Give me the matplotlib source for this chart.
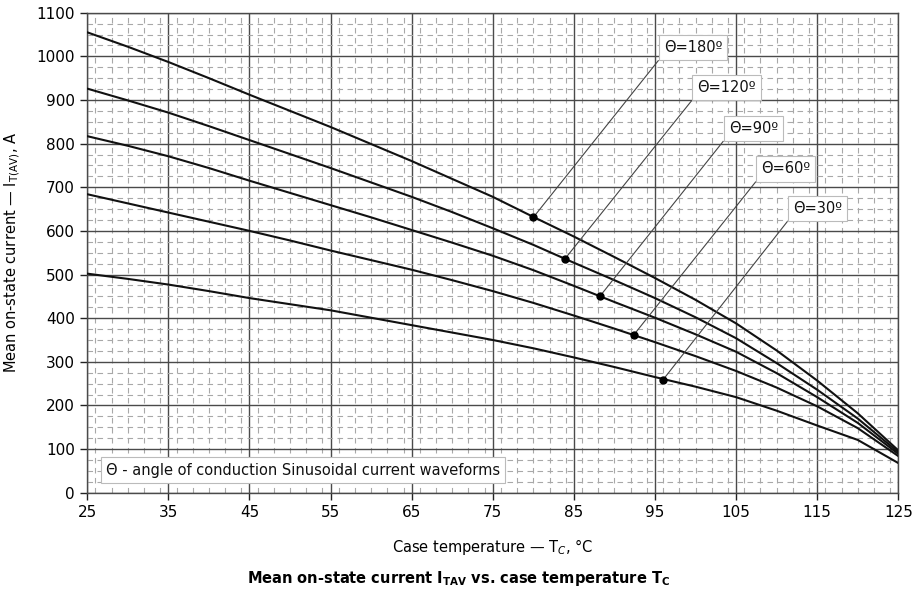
import matplotlib
matplotlib.use("Agg")
import matplotlib.pyplot as plt
from matplotlib.ticker import MultipleLocator

# ---- data ----
T = [25, 30, 35, 40, 45, 50, 55, 60, 65, 70, 75, 80, 85, 90, 95, 100, 105, 110, 115, 120, 125]
I180 = [1055, 1022, 987, 950, 912, 875, 838, 799, 760, 719, 678, 632, 587, 540, 492, 442, 388, 326, 257, 182, 97]
I120 = [926, 899, 871, 840, 808, 776, 744, 711, 678, 643, 606, 568, 527, 487, 446, 402, 354, 297, 236, 170, 93]
I90 = [817, 795, 771, 744, 715, 687, 659, 631, 602, 573, 543, 510, 474, 437, 401, 363, 323, 274, 219, 160, 89]
I60 = [684, 663, 642, 621, 600, 578, 555, 533, 511, 487, 462, 435, 406, 376, 345, 313, 279, 241, 198, 148, 84]
I30 = [502, 490, 477, 462, 446, 432, 418, 401, 384, 367, 350, 331, 310, 288, 265, 243, 219, 188, 154, 121, 68]

labels = ["Θ=180º", "Θ=120º", "Θ=90º", "Θ=60º", "Θ=30º"]
dot_T = [80.0, 83.9, 88.2, 92.4, 96.0]
dot_I = [631, 536, 450, 362, 259]
label_T = [95.4, 99.5, 103.4, 107.4, 111.3]
label_I = [990, 898, 805, 712, 621]

xticks = [25, 35, 45, 55, 65, 75, 85, 95, 105, 115, 125]
yticks = list(range(0, 1101, 100))

series = [I180, I120, I90, I60, I30]

fig = plt.figure(figsize=(9.17, 5.93), dpi=100)
ax = fig.add_axes([0.0952, 0.1691, 0.9796 - 0.0952, 0.9786 - 0.1691])

ax.set_xlim(25, 125)
ax.set_ylim(0, 1100)
ax.set_xticks(xticks)
ax.set_yticks(yticks)
ax.xaxis.set_minor_locator(MultipleLocator(2))
ax.yaxis.set_minor_locator(MultipleLocator(25))

ax.grid(which="major", color="#4a4a4a", lw=1.0, zorder=1)
ax.grid(which="minor", color="#a8a8a8", lw=0.8, linestyle=(0, (5, 4)), zorder=1)
ax.set_axisbelow(True)

for s in ax.spines.values():
    s.set_color("#4a4a4a")
    s.set_linewidth(1.0)

ax.tick_params(which="major", direction="out", length=5, width=1, color="#222222",
               labelsize=11, pad=4)
ax.tick_params(which="minor", length=0)

for ys in series:
    ax.plot(T, ys, color="#111111", lw=1.5, zorder=3,
            solid_joinstyle="round", solid_capstyle="round")

for lab, dx, dy, lx, ly in zip(labels, dot_T, dot_I, label_T, label_I):
    ax.plot([dx, lx], [dy, ly], color="#444444", lw=0.8, zorder=4)
    ax.plot([dx], [dy], "o", color="black", ms=5, zorder=5)
    ax.annotate(lab, xy=(lx, ly), xytext=(4, 4), textcoords="offset points",
                ha="left", va="bottom", fontsize=10.5, color="#111111",
                bbox=dict(boxstyle="square,pad=0.35", fc="white", ec="#bbbbbb", lw=0.8),
                zorder=6)

ax.text(27.3, 52, "Θ - angle of conduction Sinusoidal current waveforms",
        ha="left", va="center", fontsize=10.5, color="#111111",
        bbox=dict(boxstyle="square,pad=0.35", fc="white", ec="#bbbbbb", lw=0.8),
        zorder=6)

ax.set_xlabel(r"Case temperature — T$_{C}$, °C", fontsize=10.5, labelpad=12)
ax.set_ylabel(r"Mean on-state current — I$_{\mathrm{T(AV)}}$, A", fontsize=10.5, labelpad=10)

fig.text(0.5, 0.025, r"Mean on-state current I$_{\mathbf{TAV}}$ vs. case temperature T$_{\mathbf{C}}$",
         ha="center", va="center", fontsize=10.5, fontweight="bold")

fig.savefig("out.png", dpi=100)
